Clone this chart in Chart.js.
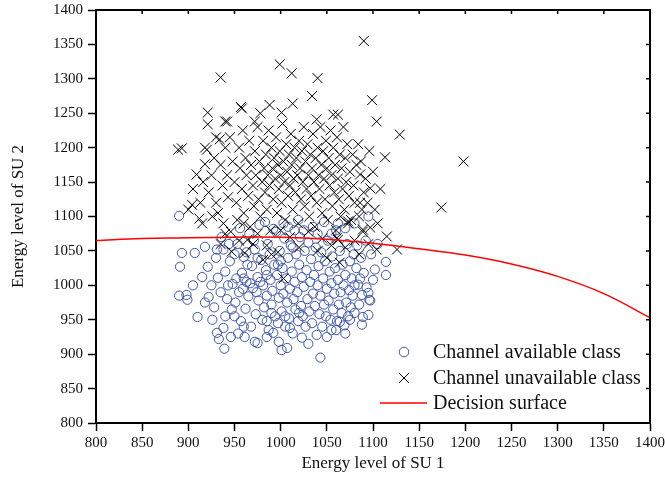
<!DOCTYPE html>
<html>
<head>
<meta charset="utf-8">
<script src="https://cdn.jsdelivr.net/npm/chart.js@4.4.1/dist/chart.umd.min.js"></script>
<style>
  body { margin: 0; background: #fff; }
  #wrap { width: 665px; height: 489px; }
</style>
</head>
<body>
<div id="wrap"><canvas id="myChart" width="665" height="489"></canvas></div>
<script>
// tick values for both axes
const xTicks = [800, 850, 900, 950, 1000, 1050, 1100, 1150, 1200, 1250, 1300, 1350, 1400]
const yTicks = [800, 850, 900, 950, 1000, 1050, 1100, 1150, 1200, 1250, 1300, 1350, 1400]

// channel available class (circles), [SU1, SU2]
const availablePts = [
  [890,1101],[891,1027],[893,1047],[890,985],[898,986],[899,979],[907,1047],[910,954],[918,1056],[921,1027],
  [922,983],[931,1052],[938,1052],[932,1011],[931,931],[933,922],[939,908],[938,938],[972,918],[975,916],
  [1001,906],[1007,909],[992,931],[1043,895],[1030,915],[1023,924],[1055,935],[1064,947],[1088,943],[1089,954],
  [1095,957],[1097,978],[1095,989],[1088,986],[1114,1034],[1102,1023],[1114,1015],[1096,979],[1086,1010],[1084,1001],
  [1095,1100],
  [945,1035],[948,1002],[951,975],[953,1060],[955,990],[957,948],[958,1018],[960,1041],[962,966],[963,1005],
  [965,984],[966,1075],[968,940],[969,1028],[970,996],[972,1052],[973,958],[975,1012],[976,978],[977,1088],
  [979,1037],[980,950],[981,1000],[982,968],[984,1022],[985,985],[986,1060],[987,935],[988,1045],[989,1008],
  [990,972],[991,992],[993,1030],[994,955],[995,1078],[996,1015],[997,945],[998,982],[999,1050],[1000,1000],
  [1001,962],[1002,1025],[1003,988],[1004,1068],[1005,940],[1006,1010],[1007,975],[1008,1040],[1009,952],[1010,995],
  [1011,1058],[1012,1020],[1013,930],[1014,980],[1015,1005],[1016,965],[1017,1045],[1018,990],[1019,948],[1020,1030],
  [1021,1070],[1022,970],[1023,1012],[1024,955],[1025,998],[1026,1050],[1027,940],[1028,1022],[1029,980],[1030,1062],
  [1031,962],[1032,1005],[1033,1038],[1034,945],[1035,988],[1036,1015],[1037,970],[1038,1055],[1039,928],[1040,1000],
  [1041,1028],[1042,958],[1043,985],[1044,1048],[1045,940],[1046,1010],[1047,972],[1048,1035],[1049,955],[1050,995],
  [1051,1065],[1052,978],[1053,1020],[1054,950],[1055,1003],[1056,1042],[1057,965],[1058,988],[1059,1025],[1060,1080],
  [1061,948],[1062,1008],[1063,972],[1064,1050],[1065,990],[1066,960],[1067,1030],[1068,1000],[1069,942],[1070,1015],
  [1071,975],[1072,1060],[1073,955],[1074,993],[1075,1035],[1076,968],[1077,1010],[1078,985],[1079,1045],[1080,960],
  [1082,1025],[1083,1058],[1085,972],[1087,1040],[1090,1018],[1092,1065],[1093,997],[1098,1045],[1100,1008],[1105,1060],
  [925,1000],[928,968],[930,1040],[935,990],[936,1070],[940,955],[940,1020],[942,980],[944,1060],[946,925],
  [947,965],[950,1045],[952,1010],[954,930],[956,1083],[959,995],[961,925],[963,1048],[964,1030],[967,1003],
  [971,1065],[974,990],[978,1005],[983,1092],[985,948],[992,1082],[997,1030],[1003,1090],[1008,1085],[1013,1055],
  [1019,1095],[1025,1080],[1035,1085],[1040,1075],[1047,1092],[1055,1075],[1062,1090],[1070,1083],[1080,1090],
  [905,1000],[915,1012],[918,975],[926,950],[943,1000],[960,1010],[975,1040],[985,1015],[1000,1035],[1015,1080],
  [1005,955],[990,960],[1020,960],[1050,925],[1060,935],[1075,950],[1070,930],[1080,1000],[1010,938],[998,918],
  [985,925],[960,940],[950,955]
]

// channel unavailable class (crosses), [SU1, SU2]
const unavailablePts = [
  [935,1302],[1090,1355],[999,1321],[1012,1308],[1040,1301],[1034,1275],[1099,1269],[1104,1238],[1129,1219],[1113,1186],
  [1198,1180],[1174,1113],[921,1251],[921,1234],[889,1197],[942,1238],[957,1259],[920,1197],[918,1176],[909,1161],
  [904,1117],[912,1097],[922,1135],[1086,1161],[1097,1141],[1086,1120],[1088,1110],[1097,1084],[1089,1081],[1115,1071],
  [1104,1052],[1126,1052],[1073,1093],[1061,1069],[947,1049],[961,1047],[981,1037],[997,1048],[1003,1010],[964,1066],
  [1064,1033],[1089,1078],[1062,1066],[1073,1090],
  [988,1262],[1013,1264],[958,1257],[1057,1248],[1062,1248],[1039,1241],[1001,1251],[940,1238],[978,1250],[972,1238],
  [918,1200],[934,1212],[893,1199],
  [945,1215],[948,1180],[950,1150],[952,1120],[953,1095],[955,1200],[956,1170],[958,1140],[959,1225],[960,1105],
  [962,1185],[963,1160],[965,1130],[966,1210],[967,1085],[968,1175],[970,1145],[971,1115],[972,1195],[973,1160],
  [975,1230],[976,1125],[977,1180],[978,1100],[980,1150],[981,1210],[982,1170],[983,1135],[984,1190],[985,1110],
  [986,1160],[987,1225],[988,1145],[989,1080],[990,1200],[991,1170],[992,1125],[993,1185],[994,1155],[995,1215],
  [996,1105],[997,1175],[998,1140],[999,1195],[1000,1160],[1001,1120],[1002,1235],[1003,1180],[1004,1150],[1005,1095],
  [1006,1205],[1007,1165],[1008,1130],[1009,1190],[1010,1145],[1011,1220],[1012,1175],[1013,1110],[1014,1155],[1015,1200],
  [1016,1135],[1017,1185],[1018,1160],[1019,1090],[1020,1210],[1021,1170],[1022,1125],[1023,1195],[1024,1150],[1025,1230],
  [1026,1115],[1027,1180],[1028,1140],[1029,1205],[1030,1160],[1031,1100],[1032,1190],[1033,1130],[1034,1170],[1035,1220],
  [1036,1150],[1037,1085],[1038,1185],[1039,1120],[1040,1200],[1041,1160],[1042,1140],[1043,1230],[1044,1175],[1045,1105],
  [1046,1195],[1047,1155],[1048,1125],[1049,1210],[1050,1170],[1051,1095],[1052,1185],[1053,1145],[1054,1225],[1055,1160],
  [1056,1115],[1057,1200],[1058,1135],[1059,1175],[1060,1080],[1061,1215],[1062,1155],[1063,1125],[1064,1190],[1065,1100],
  [1066,1170],[1067,1140],[1068,1230],[1069,1110],[1070,1185],[1071,1150],[1072,1205],[1074,1130],[1075,1165],[1076,1095],
  [1078,1190],[1079,1145],[1080,1120],[1082,1175],[1084,1205],[1085,1100],[1087,1180],[1090,1135],[1092,1155],[1094,1120],
  [1096,1195],[1100,1165],[1102,1110],[1108,1140],[1105,1090],
  [925,1160],[928,1185],[930,1120],[932,1105],[935,1175],[937,1145],[938,1090],[940,1200],[942,1160],[943,1128],
  [946,1078],[930,1215],[926,1100],[935,1060],[940,1075],[955,1065],[970,1060],[985,1058],[990,1045],[1010,1070],
  [1020,1055],[1030,1078],[1040,1050],[1045,1068],[1050,1040],[1055,1058],[1070,1055],[1080,1065],[1095,1060],[1085,1045],
  [1000,1080],[975,1075],[960,1090],[915,1090],[913,1120],[916,1150],[905,1140],[900,1110]
]

// decision surface
const surfaceX = [800, 850, 900, 950, 1000, 1050, 1100, 1150, 1200, 1250, 1300, 1350, 1400]
const surfaceY = [1065, 1068, 1069, 1070, 1070, 1067, 1061, 1053, 1044, 1031, 1013, 988, 953]

const labels = ['Channel available class', 'Channel unavailable class', 'Decision surface']
const blue = 'rgb(62,86,170)'
const serif = '"Liberation Serif", "Times New Roman", serif'

const toXY = arr => arr.map(p => ({ x: p[0], y: p[1] }))

// box on top/right with inward ticks, plus legend inside the plot
const frame = {
  id: 'frame',
  afterDraw(chart) {
    const c = chart.ctx
    const a = chart.chartArea
    const xs = chart.scales.x
    const ys = chart.scales.y
    c.save()
    c.strokeStyle = '#000'
    c.lineWidth = 2
    c.beginPath()
    c.moveTo(a.left, a.top); c.lineTo(a.right, a.top); c.lineTo(a.right, a.bottom)
    c.stroke()
    c.lineWidth = 1.5
    c.beginPath()
    xTicks.forEach(v => { let p = xs.getPixelForValue(v); c.moveTo(p, a.top); c.lineTo(p, a.top + 4) })
    yTicks.forEach(v => { let p = ys.getPixelForValue(v); c.moveTo(a.right, p); c.lineTo(a.right - 4, p) })
    c.stroke()

    // legend
    const mx = a.right - 246
    const rows = [a.bottom - 71, a.bottom - 45, a.bottom - 20]
    c.strokeStyle = blue
    c.lineWidth = 1
    c.beginPath(); c.arc(mx, rows[0], 4.8, 0, Math.PI * 2); c.stroke()
    c.strokeStyle = '#000'
    c.beginPath()
    c.moveTo(mx - 5, rows[1] - 5); c.lineTo(mx + 5, rows[1] + 5)
    c.moveTo(mx - 5, rows[1] + 5); c.lineTo(mx + 5, rows[1] - 5)
    c.stroke()
    c.strokeStyle = 'red'
    c.lineWidth = 1.5
    c.beginPath(); c.moveTo(mx - 24, rows[2]); c.lineTo(mx + 23, rows[2]); c.stroke()
    c.fillStyle = '#111'
    c.font = '20px ' + serif
    c.textBaseline = 'middle'
    labels.forEach((t, i) => c.fillText(t, mx + 29, rows[i] + 1))
    c.restore()
  }
}

const ctx = document.getElementById('myChart')

new Chart(ctx, {
  type: 'scatter',
  data: {
    datasets: [{
      label: labels[2],
      type: 'line',
      data: surfaceX.map((x, i) => ({ x: x, y: surfaceY[i] })),
      borderColor: 'red',
      borderWidth: 1.5,
      pointRadius: 0,
      tension: 0.4,
      fill: false,
      order: 0
    }, {
      label: labels[1],
      data: toXY(unavailablePts),
      pointStyle: 'crossRot',
      pointRadius: 7,
      borderColor: '#000',
      borderWidth: 1,
      order: 1
    }, {
      label: labels[0],
      data: toXY(availablePts),
      pointStyle: 'circle',
      pointRadius: 4.6,
      borderColor: blue,
      backgroundColor: 'rgba(0,0,0,0)',
      borderWidth: 1,
      order: 2
    }]
  },
  options: {
    responsive: false,
    animation: false,
    layout: { padding: { top: 10, right: 15, left: 0, bottom: 0 } },
    plugins: {
      legend: { display: false },
      tooltip: { enabled: false }
    },
    scales: {
      x: {
        type: 'linear',
        min: 800,
        max: 1400,
        afterBuildTicks: s => { s.ticks = xTicks.map(v => ({ value: v })) },
        afterFit: s => { s.height = 66; s.paddingLeft = 0; s.paddingRight = 0 },
        grid: { drawOnChartArea: false, tickLength: 8, tickColor: '#000', tickWidth: 1.5 },
        border: { color: '#000', width: 2 },
        ticks: { color: '#111', font: { family: serif, size: 15 }, padding: 3, maxRotation: 0, callback: v => String(v) },
        title: { display: true, text: 'Energy level of SU 1', color: '#111', font: { family: serif, size: 17 }, padding: { top: 4, bottom: 15 } }
      },
      y: {
        type: 'linear',
        min: 800,
        max: 1400,
        afterBuildTicks: s => { s.ticks = yTicks.map(v => ({ value: v })) },
        afterFit: s => { s.width = 96; s.paddingTop = 0; s.paddingBottom = 0 },
        grid: { drawOnChartArea: false, tickLength: 8, tickColor: '#000', tickWidth: 1.5 },
        border: { color: '#000', width: 2 },
        ticks: { color: '#111', font: { family: serif, size: 15 }, padding: 5, callback: v => String(v) },
        title: { display: true, text: 'Energy level of SU 2', color: '#111', font: { family: serif, size: 17 }, padding: { top: 8, bottom: 4 } }
      }
    }
  },
  plugins: [frame]
})
</script>
</body>
</html>
